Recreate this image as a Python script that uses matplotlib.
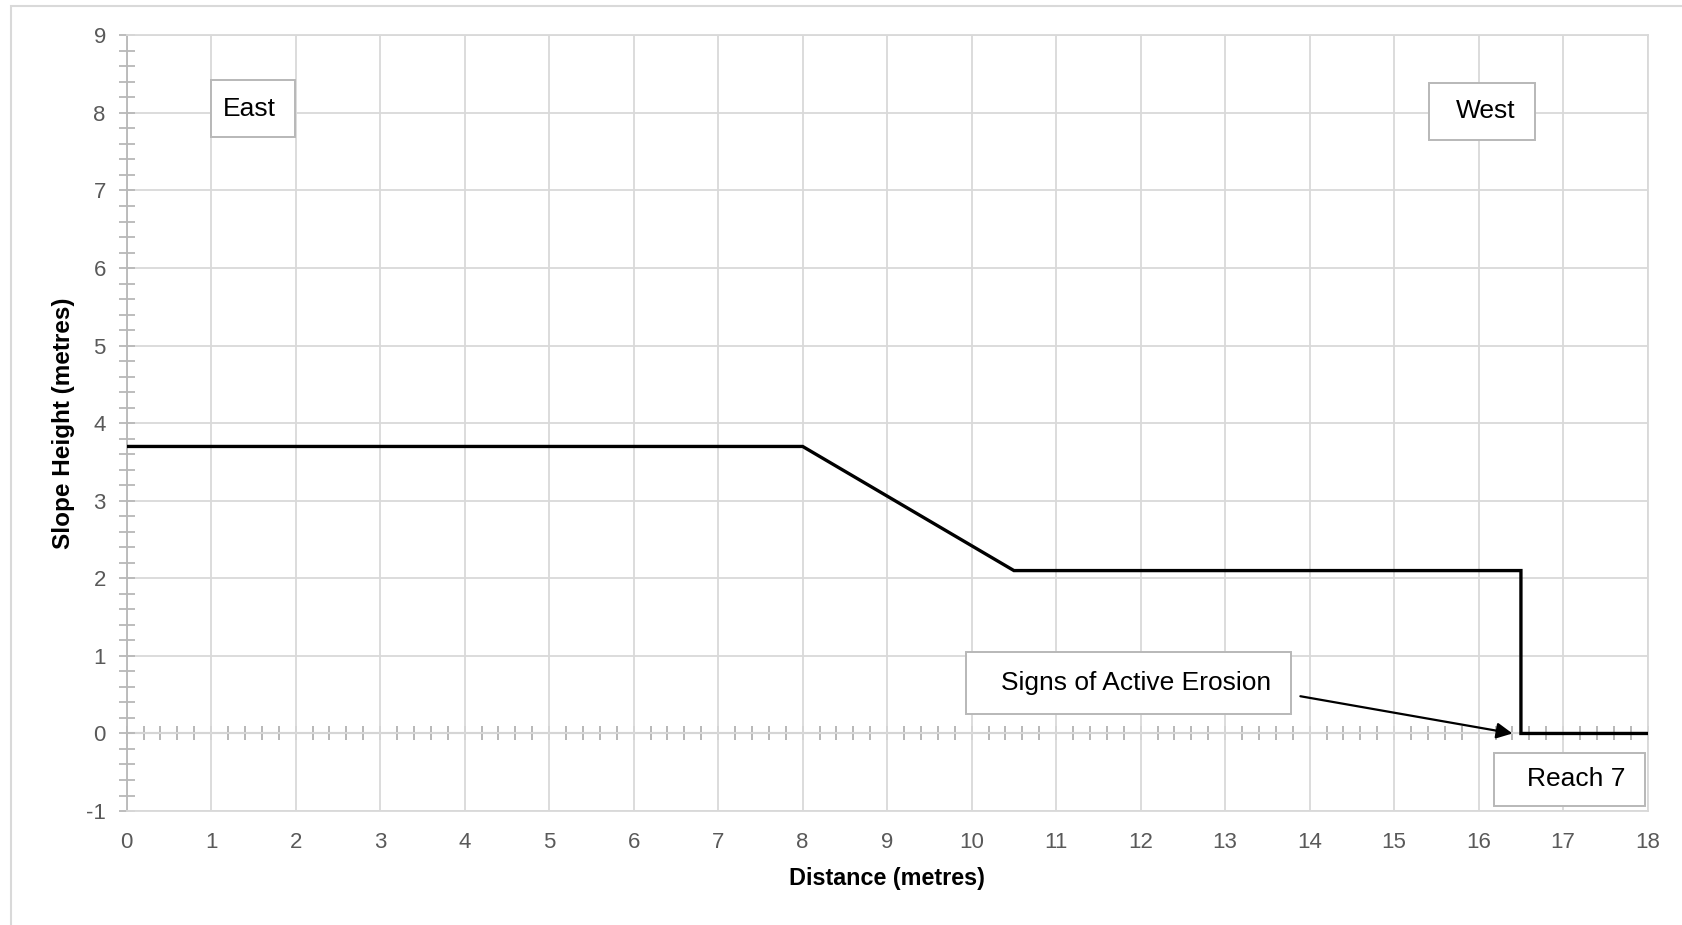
import matplotlib
matplotlib.use("Agg")
import matplotlib.pyplot as plt
from matplotlib.patches import Rectangle
from matplotlib.ticker import MultipleLocator, NullLocator

# profile of the slope (distance in metres, height in metres)
distance = [0, 8, 10.5, 16.5, 16.5, 18]
height = [3.7, 3.7, 2.1, 2.1, 0, 0]

x_ticks = list(range(0, 19))
y_ticks = list(range(-1, 10))

grid_col = "#d9d9d9"
axis_col = "#b8b8b8"
label_col = "#595959"

plt.rcParams["font.family"] = ["Liberation Sans", "DejaVu Sans"]
plt.rcParams["axes.unicode_minus"] = False

fig = plt.figure(figsize=(16.82, 9.25), dpi=100)
ax = fig.add_axes([0.0753, 0.1232, 0.9043, 0.8386])

# outer chart border
fig.patches.append(Rectangle((11 / 1682, -0.1), 1.2, 1 - 6 / 925 + 0.1,
                             transform=fig.transFigure, fill=False,
                             edgecolor=grid_col, linewidth=1.5, zorder=0))

ax.set_xlim(0, 18)
ax.set_ylim(-1, 9)
ax.set_xticks(x_ticks)
ax.set_yticks(y_ticks)
ax.yaxis.set_minor_locator(MultipleLocator(0.2))
ax.grid(True, which="major", color=grid_col, linewidth=1.3)
ax.set_axisbelow(True)

for side in ["top", "right", "bottom"]:
    ax.spines[side].set_color(grid_col)
    ax.spines[side].set_linewidth(1.3)
ax.spines["left"].set_color(axis_col)
ax.spines["left"].set_linewidth(1.3)

ax.tick_params(axis="x", which="both", length=0, labelsize=16, labelcolor=label_col, pad=15)
ax.tick_params(axis="y", which="major", direction="inout", length=12, width=1.3,
               color=axis_col, labelsize=16, labelcolor=label_col, pad=9)
ax.tick_params(axis="y", which="minor", direction="inout", length=11, width=1.3, color=axis_col)

# horizontal axis crossing at zero
sec = ax.secondary_xaxis(0, transform=ax.transData)
sec.xaxis.set_major_locator(NullLocator())
sec.xaxis.set_minor_locator(MultipleLocator(0.2))
sec.tick_params(which="minor", direction="inout", length=10, width=1.4, color=axis_col)
sec.spines["bottom"].set_color(axis_col)
sec.spines["bottom"].set_linewidth(1.5)

ax.plot(distance, height, color="black", linewidth=2.4, solid_joinstyle="miter", zorder=3)

ax.set_xlabel("Distance (metres)", fontsize=16.8, fontweight="bold", labelpad=10)
ax.set_ylabel("Slope Height (metres)", fontsize=17.5, fontweight="bold", labelpad=8)

# text boxes: (x0, x1, y0, y1) in data units
boxes = [(1.0, 1.99, 7.69, 8.42), (15.41, 16.67, 7.65, 8.38),
         (9.93, 13.78, 0.25, 1.05), (16.18, 17.97, -0.93, -0.25)]
for x0, x1, y0, y1 in boxes:
    ax.add_patch(Rectangle((x0, y0), x1 - x0, y1 - y0, facecolor="white",
                           edgecolor=axis_col, linewidth=1.4, zorder=4))

ax.text(1.45, 8.05, "East", fontsize=19, ha="center", va="center", zorder=5)
ax.text(16.08, 8.02, "West", fontsize=19, ha="center", va="center", zorder=5)
ax.text(11.94, 0.65, "Signs of Active Erosion", fontsize=19, ha="center", va="center", zorder=5)
ax.text(17.15, -0.59, "Reach 7", fontsize=19, ha="center", va="center", zorder=5)
ax.annotate("", xy=(16.4, 0), xytext=(13.89, 0.48),
            arrowprops=dict(arrowstyle="-|>", color="black", lw=1.6, mutation_scale=24,
                            shrinkA=0, shrinkB=0), zorder=6)

fig.savefig("out.png", dpi=100)
